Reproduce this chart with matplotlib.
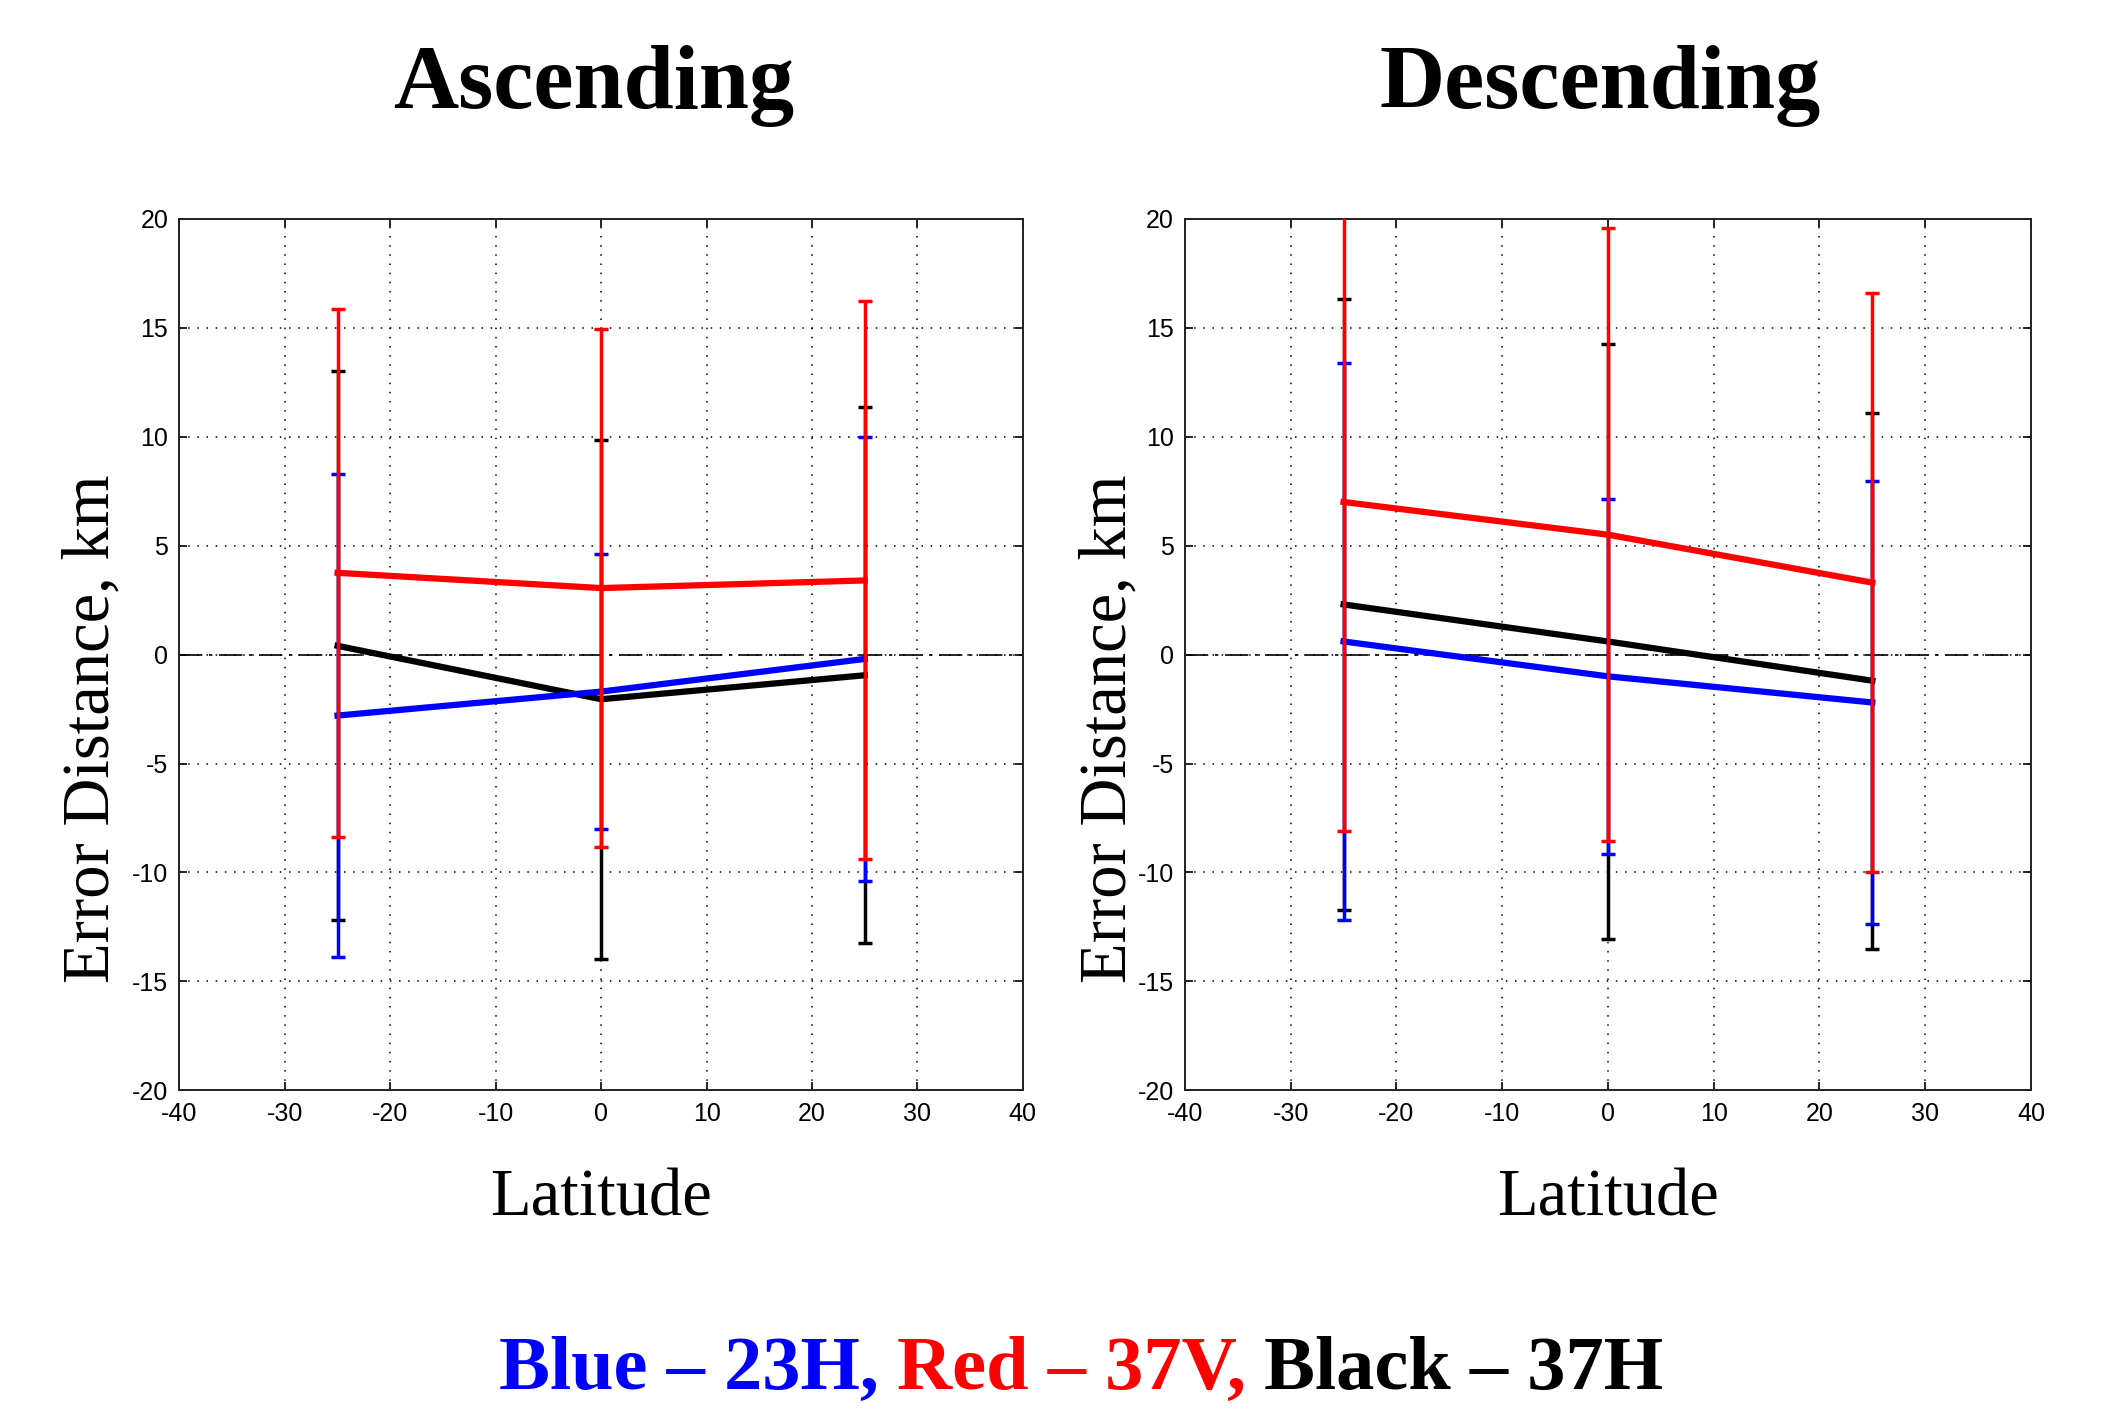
import numpy as np
import matplotlib
matplotlib.use('Agg')
import matplotlib.pyplot as plt
from matplotlib.offsetbox import TextArea, HPacker, AnchoredOffsetbox

# latitude positions of the three samples
lat = np.array([-25, 0, 25])

# ascending: means and half error bars (km)
asc_23h = np.array([-2.8, -1.7, -0.2])
asc_23h_err = np.array([11.1, 6.3, 10.2])
asc_37v = np.array([3.75, 3.05, 3.4])
asc_37v_err = np.array([12.1, 11.9, 12.8])
asc_37h = np.array([0.4, -2.05, -0.95])
asc_37h_err = np.array([12.6, 11.9, 12.3])

# descending
desc_23h = np.array([0.6, -1.0, -2.2])
desc_23h_err = np.array([12.8, 8.15, 10.15])
desc_37v = np.array([7.0, 5.5, 3.3])
desc_37v_err = np.array([15.1, 14.05, 13.3])
desc_37h = np.array([2.3, 0.6, -1.2])
desc_37h_err = np.array([14.0, 13.65, 12.3])

xticks = np.arange(-40, 41, 10)
yticks = np.arange(-20, 21, 5)

plt.rcParams['axes.unicode_minus'] = False
serif = 'Liberation Serif'
tickfont = 'Liberation Sans'

fig = plt.figure(figsize=(21.16, 14.09), dpi=100)
ax1 = fig.add_axes([0.0848, 0.2261, 0.3986, 0.6187])
ax2 = fig.add_axes([0.5600, 0.2261, 0.3998, 0.6187])


def draw_panel(ax, series, ylab_x):
    ax.set_axisbelow(True)
    ax.grid(True, ls=(0, (1, 5)), color='k', lw=1.1)
    ax.axhline(0, color='k', ls=(0, (14, 4, 2, 4)), lw=1.2, zorder=1.5)
    z = 3
    for mean, err, col in series:
        ax.errorbar(lat, mean, yerr=err, color=col, lw=4.5, elinewidth=2.5,
                    capsize=5, capthick=2.5, zorder=z)
        z += 1
    ax.set_xlim(-40, 40)
    ax.set_ylim(-20, 20)
    ax.set_xticks(xticks)
    ax.set_yticks(yticks)
    ax.tick_params(direction='in', length=6, width=1.2, top=True, right=True,
                   labelsize=18, pad=8)
    for lab in ax.get_xticklabels() + ax.get_yticklabels():
        lab.set_family(tickfont)
    for sp in ax.spines.values():
        sp.set_linewidth(1.4)
        sp.set_color('#222222')
    ax.set_xlabel('Latitude', fontsize=48, family=serif)
    ax.set_ylabel('Error Distance, km', fontsize=48, family=serif)
    ax.xaxis.set_label_coords(0.5, -0.09)
    ax.yaxis.set_label_coords(ylab_x, 0.415)


draw_panel(ax1, [(asc_37h, asc_37h_err, 'black'),
                 (asc_23h, asc_23h_err, 'blue'),
                 (asc_37v, asc_37v_err, 'red')], -0.067)
draw_panel(ax2, [(desc_37h, desc_37h_err, 'black'),
                 (desc_23h, desc_23h_err, 'blue'),
                 (desc_37v, desc_37v_err, 'red')], -0.054)

fig.text(0.2806, 0.9234, 'Ascending', fontsize=65, fontweight='bold',
         family=serif, ha='center', va='baseline')
fig.text(0.756, 0.9234, 'Descending', fontsize=65, fontweight='bold',
         family=serif, ha='center', va='baseline')

# coloured key line at the bottom
parts = [('Blue – 23H,', 'blue'), ('Red – 37V,', 'red'), ('Black – 37H', 'black')]
areas = [TextArea(t, textprops=dict(color=c, fontsize=55, fontweight='bold', family=serif))
         for t, c in parts]
box = HPacker(children=areas, align='baseline', pad=0, sep=13)
anch = AnchoredOffsetbox(loc='lower center', child=box, frameon=False, pad=0, borderpad=0,
                         bbox_to_anchor=(0.511, 0.003), bbox_transform=fig.transFigure)
fig.add_artist(anch)

fig.savefig('out.png', dpi=100)
